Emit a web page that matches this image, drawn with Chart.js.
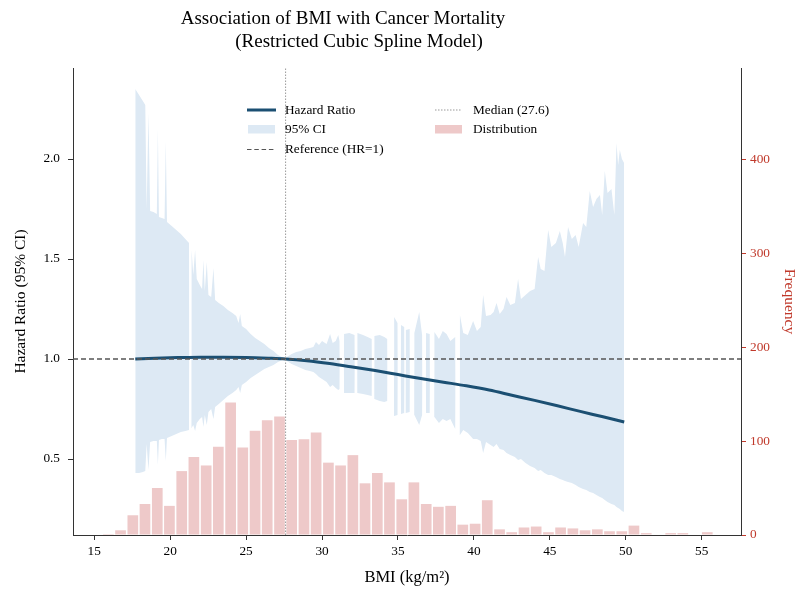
<!DOCTYPE html>
<html>
<head>
<meta charset="utf-8">
<title>BMI and Cancer Mortality</title>
<script src="https://cdn.jsdelivr.net/npm/chart.js@4.4.0/dist/chart.umd.min.js"></script>
<style>
  body { margin: 0; background: #fff; }
  #wrap { position: relative; width: 795px; height: 592px; font-family: "Liberation Serif", "Times New Roman", serif; color: #000; }
  #box { position: absolute; left: 0; top: 0; width: 795px; height: 592px; }
  .ttl { position: absolute; width: 600px; text-align: center; font-size: 19px; line-height: 23px; white-space: nowrap; }
  .lg { position: absolute; font-size: 13.3px; line-height: 16px; white-space: nowrap; }
  #keys { position: absolute; left: 0; top: 0; }
</style>
</head>
<body>
<div id="wrap">
  <div id="box"><canvas id="rcsChart"></canvas></div>

  <div class="ttl" style="left:43px; top:6px;">Association of BMI with Cancer Mortality</div>
  <div class="ttl" style="left:59px; top:29px;">(Restricted Cubic Spline Model)</div>

  <svg id="keys" width="795" height="200">
    <line x1="247" y1="110" x2="276" y2="110" stroke="#1b4f72" stroke-width="3"/>
    <rect x="248" y="125" width="27" height="8.5" fill="#dde9f4"/>
    <line x1="247" y1="149.5" x2="276" y2="149.5" stroke="#555" stroke-width="1.2" stroke-dasharray="4.5,2.8"/>
    <line x1="435" y1="110" x2="462" y2="110" stroke="#999" stroke-width="1" stroke-dasharray="1.5,1.5"/>
    <rect x="435" y="125" width="27" height="8.5" fill="#eec9c9"/>
  </svg>
  <div class="lg" style="left:285px; top:102px;">Hazard Ratio</div>
  <div class="lg" style="left:285px; top:121px;">95% CI</div>
  <div class="lg" style="left:285px; top:141px;">Reference (HR=1)</div>
  <div class="lg" style="left:473px; top:102px;">Median (27.6)</div>
  <div class="lg" style="left:473px; top:121px;">Distribution</div>
</div>

<script>
// ---- datos ----

// histograma de IMC (centros de cada barra y frecuencias)
const bmiBins = [15.93, 16.73, 17.54, 18.34, 19.15, 19.95, 20.76, 21.56, 22.37, 23.17,
                 23.98, 24.78, 25.59, 26.39, 27.20, 28.00, 28.81, 29.61, 30.42, 31.22,
                 32.03, 32.83, 33.64, 34.44, 35.25, 36.05, 36.86, 37.66, 38.47, 39.27,
                 40.08, 40.88, 41.69, 42.49, 43.30, 44.10, 44.91, 45.71, 46.52, 47.32,
                 48.13, 48.93, 49.74, 50.54, 51.35, 52.15, 52.96, 53.76, 54.57, 55.37];
const binCounts = [1, 5, 21, 33, 50, 31, 68, 83, 74, 94,
                   141, 93, 111, 122, 126, 101, 102, 109, 77, 74,
                   85, 55, 66, 56, 38, 56, 33, 30, 31, 11,
                   12, 37, 6, 3, 8, 9, 3, 8, 7, 5,
                   6, 4, 4, 10, 2, 0, 2, 2, 0, 3];

// curva del hazard ratio
const hrBmi = [17.7, 19, 20.5, 22, 23.5, 25, 26.5, 27.6, 29, 30.5, 32, 33.5,
               35, 36.5, 38, 39.5, 41, 42.5, 44, 45.5, 47, 48.5, 49.9];
const hrValues = [1.000, 1.004, 1.007, 1.009, 1.009, 1.008, 1.004, 1.000, 0.991, 0.977, 0.960, 0.942,
                  0.922, 0.902, 0.884, 0.866, 0.845, 0.819, 0.793, 0.766, 0.738, 0.711, 0.685];

// banda del IC 95% (donde superior = inferior la banda queda cortada)
const ciBmi = [17.70, 17.95, 18.20, 18.36, 18.45, 18.57, 18.68, 18.90, 19.12, 19.19,
               19.26, 19.45, 19.63, 19.71, 19.79, 20.10, 20.40, 20.70, 21.00, 21.24,
               21.25, 21.40, 21.41, 21.52, 21.64, 21.75, 21.95, 22.10, 22.19, 22.28,
               22.41, 22.52, 22.70, 22.85, 22.96, 23.20, 23.50, 23.80, 24.10, 24.35,
               24.50, 24.61, 24.72, 25.00, 25.30, 25.60, 25.90, 26.20, 26.50, 26.80,
               27.10, 27.40, 27.60, 27.68, 28.00, 28.30, 28.60, 28.90, 29.20, 29.43,
               29.60, 29.80, 30.00, 30.30, 30.53, 30.70, 30.90, 31.07, 31.15, 31.16,
               31.44, 31.45, 31.80, 32.14, 32.15, 32.32, 32.33, 32.70, 33.00, 33.27,
               33.28, 33.44, 33.45, 33.80, 34.10, 34.29, 34.30, 34.74, 34.75, 34.97,
               34.98, 35.19, 35.20, 35.41, 35.42, 35.51, 35.52, 35.77, 35.78, 36.07,
               36.08, 36.40, 36.59, 36.60, 36.84, 36.85, 37.09, 37.10, 37.39, 37.40,
               37.70, 37.95, 38.20, 38.45, 38.77, 38.78, 39.07, 39.08, 39.30, 39.60,
               39.95, 40.20, 40.45, 40.61, 40.80, 41.10, 41.30, 41.49, 41.70, 41.95,
               42.15, 42.40, 42.70, 42.91, 43.10, 43.40, 43.70, 44.00, 44.23, 44.40,
               44.65, 44.89, 45.10, 45.40, 45.66, 45.85, 46.00, 46.20, 46.45, 46.70,
               46.90, 47.19, 47.40, 47.63, 47.85, 48.07, 48.30, 48.45, 48.62, 48.80,
               49.06, 49.25, 49.39, 49.50, 49.61, 49.75, 49.89];
const ciUpper = [2.35, 2.32, 2.29, 2.27, 1.75, 2.23, 1.74, 1.735, 1.725, 2.15,
                 1.71, 1.705, 1.70, 2.09, 1.685, 1.665, 1.645, 1.625, 1.60, 1.58,
                 1.008, 1.008, 1.545, 1.42, 1.545, 1.40, 1.37, 1.35, 1.495, 1.34,
                 1.485, 1.32, 1.31, 1.455, 1.295, 1.28, 1.265, 1.245, 1.23, 1.215,
                 1.18, 1.225, 1.165, 1.15, 1.125, 1.105, 1.09, 1.075, 1.055, 1.04,
                 1.02, 1.008, 1.001, 1.01, 1.025, 1.035, 1.04, 1.05, 1.055, 1.06,
                 1.085, 1.07, 1.09, 1.075, 1.125, 1.08, 1.09, 1.12, 1.09, 0.97,
                 0.97, 1.125, 1.13, 1.12, 0.958, 0.958, 1.13, 1.12, 1.11, 1.10,
                 0.943, 0.943, 1.115, 1.12, 1.11, 1.10, 0.93, 0.93, 1.21, 1.18,
                 0.92, 0.92, 1.17, 1.16, 0.915, 0.915, 1.145, 1.15, 0.91, 0.91,
                 1.13, 1.235, 1.12, 0.90, 0.90, 1.13, 1.125, 0.894, 0.894, 1.135,
                 1.10, 1.14, 1.125, 1.09, 1.11, 0.873, 0.873, 1.22, 1.13, 1.12,
                 1.19, 1.14, 1.16, 1.32, 1.215, 1.22, 1.235, 1.28, 1.225, 1.25,
                 1.31, 1.27, 1.28, 1.40, 1.30, 1.32, 1.34, 1.35, 1.51, 1.45,
                 1.44, 1.645, 1.56, 1.58, 1.64, 1.58, 1.51, 1.66, 1.60, 1.62,
                 1.56, 1.68, 1.66, 1.84, 1.76, 1.80, 1.82, 1.72, 1.94, 1.83,
                 1.85, 1.72, 2.08, 1.97, 2.045, 2.00, 1.98];
const ciLower = [0.43, 0.43, 0.435, 0.44, 0.575, 0.445, 0.585, 0.59, 0.59, 0.47,
                 0.595, 0.60, 0.60, 0.49, 0.605, 0.615, 0.625, 0.635, 0.64, 0.645,
                 1.008, 1.008, 0.655, 0.67, 0.64, 0.68, 0.70, 0.71, 0.66, 0.72,
                 0.67, 0.735, 0.75, 0.70, 0.76, 0.775, 0.795, 0.815, 0.83, 0.845,
                 0.86, 0.83, 0.87, 0.885, 0.905, 0.92, 0.935, 0.95, 0.96, 0.97,
                 0.985, 0.995, 0.999, 0.99, 0.975, 0.965, 0.955, 0.945, 0.94, 0.935,
                 0.925, 0.91, 0.90, 0.885, 0.86, 0.87, 0.855, 0.845, 0.85, 0.97,
                 0.97, 0.83, 0.83, 0.83, 0.958, 0.958, 0.83, 0.825, 0.82, 0.815,
                 0.943, 0.943, 0.80, 0.79, 0.785, 0.79, 0.93, 0.93, 0.715, 0.72,
                 0.92, 0.92, 0.725, 0.73, 0.915, 0.915, 0.73, 0.735, 0.91, 0.91,
                 0.72, 0.67, 0.72, 0.90, 0.90, 0.73, 0.73, 0.894, 0.894, 0.71,
                 0.68, 0.70, 0.69, 0.70, 0.65, 0.873, 0.873, 0.62, 0.645, 0.63,
                 0.60, 0.60, 0.59, 0.53, 0.585, 0.57, 0.56, 0.575, 0.55, 0.545,
                 0.53, 0.52, 0.51, 0.495, 0.50, 0.48, 0.465, 0.455, 0.44, 0.445,
                 0.43, 0.42, 0.42, 0.41, 0.40, 0.395, 0.39, 0.385, 0.38, 0.37,
                 0.36, 0.35, 0.345, 0.335, 0.33, 0.32, 0.31, 0.305, 0.295, 0.285,
                 0.275, 0.27, 0.26, 0.255, 0.25, 0.24, 0.235];

const medianBmi = 27.6;
const refHR = 1;

// marcas de los ejes
const xTicks = [15, 20, 25, 30, 35, 40, 45, 50, 55];
const hrTicks = [0.5, 1.0, 1.5, 2.0];
const freqTicks = [0, 100, 200, 300, 400];

// limites de los ejes
const xMin = 13.6, xMax = 57.59;
const hrMin = 0.12, hrMax = 2.455;
const freqMax = 497;

const SERIF = '"Liberation Serif", "Times New Roman", serif';
const RED = '#c0392b';

function toPoints(xs, ys) {
    return xs.map((x, i) => ({ x: x, y: ys[i] }));
}

function initializeChart() {
    const ctx = document.getElementById('rcsChart').getContext('2d');
    new Chart(ctx, {
        type: 'line',
        data: {
            datasets: [
                {
                    label: '95% CI',
                    data: toPoints(ciBmi, ciUpper),
                    borderColor: 'transparent',
                    borderWidth: 0,
                    backgroundColor: '#dde9f4',
                    pointRadius: 0,
                    tension: 0,
                    fill: '+1',
                    order: 5
                },
                {
                    label: 'CI lower',
                    data: toPoints(ciBmi, ciLower),
                    borderColor: 'transparent',
                    borderWidth: 0,
                    pointRadius: 0,
                    tension: 0,
                    fill: false,
                    order: 5
                },
                {
                    label: 'Hazard Ratio',
                    data: toPoints(hrBmi, hrValues),
                    borderColor: '#1b4f72',
                    borderWidth: 3,
                    pointRadius: 0,
                    cubicInterpolationMode: 'monotone',
                    fill: false,
                    order: 3
                },
                {
                    label: 'Reference (HR=1)',
                    data: [{ x: xMin, y: refHR }, { x: xMax, y: refHR }],
                    borderColor: '#555555',
                    borderWidth: 1.3,
                    borderDash: [5, 3],
                    pointRadius: 0,
                    fill: false,
                    order: 1
                },
                {
                    label: 'Median (27.6)',
                    data: [{ x: medianBmi, y: hrMin }, { x: medianBmi, y: hrMax }],
                    borderColor: '#9a9a9a',
                    borderWidth: 1,
                    borderDash: [1.5, 1.5],
                    pointRadius: 0,
                    fill: false,
                    order: 0
                },
                {
                    type: 'bar',
                    label: 'Distribution',
                    data: toPoints(bmiBins, binCounts),
                    yAxisID: 'y2',
                    backgroundColor: '#eec9c9',
                    borderWidth: 0,
                    barPercentage: 0.88,
                    categoryPercentage: 1.0,
                    order: 6
                }
            ]
        },
        options: {
            responsive: true,
            maintainAspectRatio: false,
            animation: false,
            layout: { padding: { top: 68, left: 0, right: 0, bottom: 0 } },
            plugins: {
                legend: { display: false },
                tooltip: { enabled: false },
                title: { display: false }
            },
            scales: {
                x: {
                    type: 'linear',
                    min: xMin,
                    max: xMax,
                    offset: false,
                    afterBuildTicks: (scale) => { scale.ticks = xTicks.map(v => ({ value: v })); },
                    afterFit: (scale) => { scale.height = 57; },
                    grid: { offset: false, drawOnChartArea: false, drawTicks: true, tickLength: 5, color: '#333' },
                    border: { display: true, color: '#333', width: 1 },
                    ticks: { autoSkip: false, maxRotation: 0, padding: 4, color: '#000', font: { family: SERIF, size: 13.3 } },
                    title: { display: true, text: 'BMI (kg/m²)', color: '#000', padding: { top: 0, bottom: 4 }, font: { family: SERIF, size: 16.5 } }
                },
                y: {
                    type: 'linear',
                    position: 'left',
                    min: hrMin,
                    max: hrMax,
                    afterBuildTicks: (scale) => { scale.ticks = hrTicks.map(v => ({ value: v })); },
                    afterFit: (scale) => { scale.width = 73; },
                    grid: { drawOnChartArea: false, drawTicks: true, tickLength: 5, color: '#333' },
                    border: { display: true, color: '#333', width: 1 },
                    ticks: { autoSkip: false, padding: 8, color: '#000', font: { family: SERIF, size: 13.3 },
                             callback: (v) => v.toFixed(1) },
                    title: { display: true, text: 'Hazard Ratio (95% CI)', color: '#000', padding: { top: 12, bottom: 0 }, font: { family: SERIF, size: 15.5 } }
                },
                y2: {
                    type: 'linear',
                    position: 'right',
                    min: 0,
                    max: freqMax,
                    afterBuildTicks: (scale) => { scale.ticks = freqTicks.map(v => ({ value: v })); },
                    afterFit: (scale) => { scale.width = 54; },
                    grid: { drawOnChartArea: false, drawTicks: true, tickLength: 5, color: RED },
                    border: { display: true, color: '#333', width: 1 },
                    ticks: { autoSkip: false, padding: 4, color: RED, font: { family: SERIF, size: 13.3 } },
                    title: { display: true, text: 'Frequency', color: RED, padding: { top: -2, bottom: 0 }, font: { family: SERIF, size: 15.5, lineHeight: 1.0 } }
                }
            }
        }
    });
}

document.addEventListener('DOMContentLoaded', initializeChart);
</script>
</body>
</html>
